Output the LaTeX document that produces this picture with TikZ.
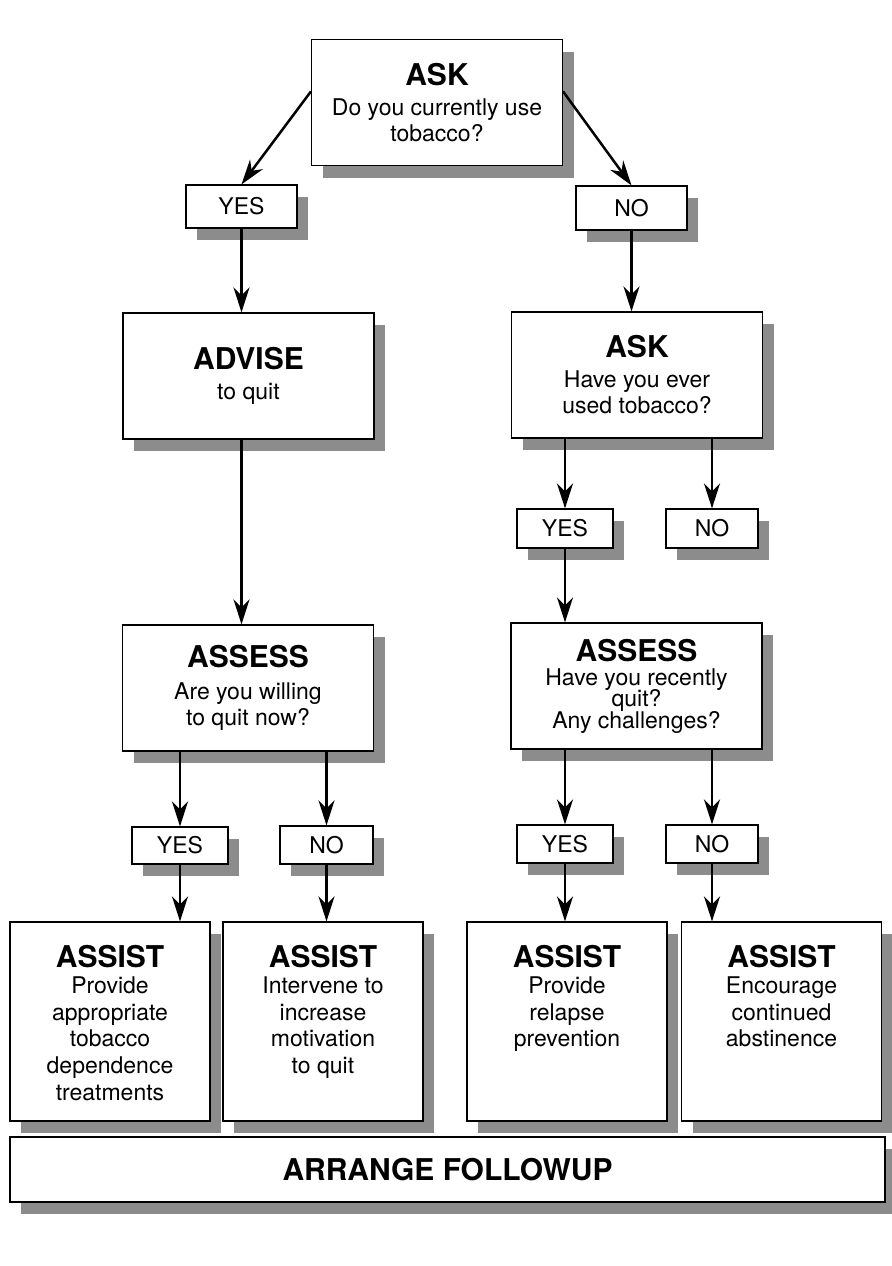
\documentclass[tikz,border=0pt]{standalone}
\usepackage{fontspec}
\setmainfont{TeX Gyre Heros}
\usepackage{tikz}
\usetikzlibrary{shadows}
\usetikzlibrary{positioning}
\usetikzlibrary{arrows.meta}
\usetikzlibrary{calc}
\newcommand{\hd}[1]{{\fontsize{15}{16}\selectfont\bfseries #1}}
\tikzstyle{box}=[rectangle,draw,line width=0.6pt,fill=white,align=center,inner sep=0pt,
  font=\fontsize{11.5}{13}\selectfont,
  drop shadow={shadow xshift=5.5pt,shadow yshift=-6pt,fill=black!45,opacity=1}]
\tikzset{big/.style={box,minimum width=125.5pt,minimum height=63pt}}
\tikzset{yn/.style={box,font=\fontsize{11.5}{13}\selectfont}}
\tikzset{assistbox/.style={box,minimum width=100pt,minimum height=99.5pt}}
\tikzset{asttext/.style={align=center,inner sep=0pt,font=\fontsize{11.5}{13.3}\selectfont}}
\tikzset{flow/.style={-{Stealth[length=12.5pt,width=8pt,inset=4pt]},line width=1.25pt}}

\begin{document}
\begin{tikzpicture}[x=0.5pt,y=-0.5pt]
    \useasboundingbox (0,0) rectangle (891,1266);

    % questions
    \node[big] (ask1) at (437,102.5) {\hd{ASK}\\[2pt] Do you currently use\\ tobacco?};
    \node[big] (advise) at (248.5,376) {\hd{ADVISE}\\[2pt] to quit};
    \node[big] (ask2) at (637,375) {\hd{ASK}\\[2pt] Have you ever\\ used tobacco?};
    \node[big] (assess1) at (248,688) {\hd{ASSESS}\\[3pt] Are you willing\\ to quit now?};
    \node[big] (assess2) at (636.5,686) {\hd{ASSESS}\\[-1pt] Have you recently\\[-2.5pt] quit?\\[-2pt] Any challenges?};

    % answers
    \foreach \pos/\name/\txt/\w/\h in {{(241.5,206.5)/yes1/YES/55.5/21.5}, {(631.5,208)/no1/NO/55.5/22},
        {(565,528.5)/yes2/YES/48/19.5}, {(712,528.5)/no2/NO/46/19.5},
        {(180,845.5)/yes3/YES/48/18.5}, {(326.5,845)/no3/NO/46.5/19},
        {(565,844)/yes4/YES/48/19}, {(712,844)/no4/NO/46/19}}
        \node[yn,minimum width=\w pt,minimum height=\h pt] (\name) at \pos {\txt};

    % assist
    \foreach \pos/\name in {{(110,1021.5)/assist1}, {(323,1021.5)/assist2}, {(567,1021.5)/assist3}, {(781.5,1021.5)/assist4}}
        \node[assistbox] (\name) at \pos {};

    \node[asttext,below=11.5pt of assist1.north] (assist1t) {\hd{ASSIST}\\ Provide\\ appropriate\\ tobacco\\ dependence\\ treatments};
    \node[asttext,below=11.5pt of assist2.north] (assist2t) {\hd{ASSIST}\\ Intervene to\\ increase\\ motivation\\ to quit};
    \node[asttext,below=11.5pt of assist3.north] (assist3t) {\hd{ASSIST}\\ Provide\\ relapse\\ prevention};
    \node[asttext,below=11.5pt of assist4.north] (assist4t) {\hd{ASSIST}\\ Encourage\\ continued\\ abstinence};

    \node[box,minimum width=437.5pt,minimum height=32.5pt] (arrange) at (447.5,1169.5) {\hd{ARRANGE FOLLOWUP}};

    \draw[flow] (ask1.175) -- (yes1.north);
    \draw[flow] (ask1.5) -- (no1.north);

    \draw[flow] (yes1.south) -- (yes1.south |- advise.north);
    \draw[flow] (no1.south) -- (no1.south |- ask2.north);

    \draw[flow] (advise.south -| yes1) -- (yes1 |- assess1.north);
    \draw[flow] (ask2.south -| yes2) -- (yes2.north);
    \draw[flow] (ask2.south -| no2) -- (no2.north);
    \draw[flow] (yes2.south) -- (yes2.south |- assess2.north);

    \draw[flow] (assess1.south -| yes3) -- (yes3.north);
    \draw[flow] (assess1.south -| no3) -- (no3.north);
    \draw[flow] (assess2.south -| yes4) -- (yes4.north);
    \draw[flow] (assess2.south -| no4) -- (no4.north);

    \draw[flow] (yes3.south) -- (yes3.south |- assist1.north);
    \draw[flow] (no3.south) -- (no3.south |- assist2.north);
    \draw[flow] (yes4.south) -- (yes4.south |- assist3.north);
    \draw[flow] (no4.south) -- (no4.south |- assist4.north);

\end{tikzpicture}
\end{document}
